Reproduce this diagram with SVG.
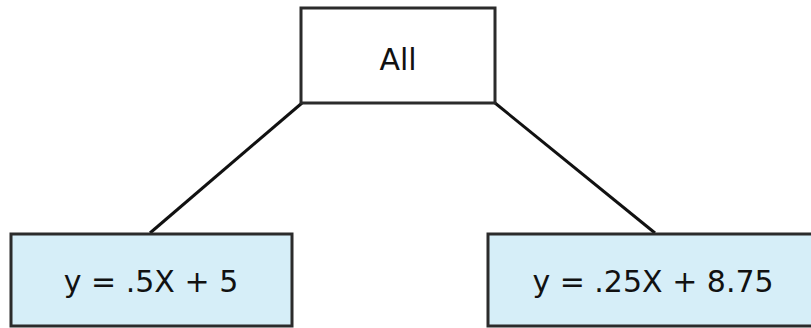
<svg xmlns="http://www.w3.org/2000/svg" width="811" height="328" viewBox="0 0 811 328">
<style>
.node rect{stroke:#2b2b2b;stroke-width:3}
.top rect{fill:#ffffff}
.leaf rect{fill:#d6eef8}
text{font-family:"DejaVu Sans","Liberation Sans",sans-serif;font-size:30px;fill:#111;text-anchor:middle}
.edges line{stroke:#111;stroke-width:3}
</style>
<rect width="811" height="328" fill="#ffffff"/>
<g class="edges">
<line x1="302" y1="103" x2="150" y2="233"/>
<line x1="495" y1="103" x2="655" y2="233"/>
</g>
<g id="all" class="node top">
<rect x="301" y="8" width="194" height="95"/>
<text x="398" y="70">All</text>
</g>
<g id="left" class="node leaf">
<rect x="11" y="234" width="281" height="92"/>
<text x="151" y="292">y = .5X + 5</text>
</g>
<g id="right" class="node leaf">
<rect x="488" y="234" width="330" height="92"/>
<text x="653" y="292">y = .25X + 8.75</text>
</g>
</svg>
